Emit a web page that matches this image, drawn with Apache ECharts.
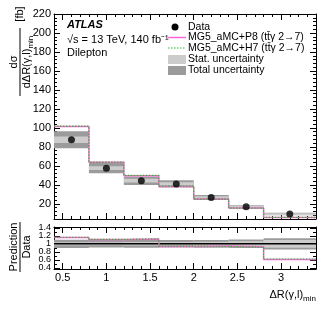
<!DOCTYPE html>
<html><head><meta charset="utf-8">
<script src="https://cdn.jsdelivr.net/npm/echarts@6/dist/echarts.min.js"></script>
<style>html,body{margin:0;padding:0;background:#fff}#c{width:332px;height:319px}</style>
</head><body><div id="c"></div>
<script>
// ---- data ----
const binEdges   = [0.4, 0.8, 1.2, 1.6, 2.0, 2.4, 2.8, 3.4];
const dataValues = [87.5, 57.6, 44.4, 41.0, 26.7, 16.8, 9.2];
const statUnc    = [3.3, 2.1, 2.0, 1.8, 1.4, 1.1, 0.9];
const totalUnc   = [9.0, 5.3, 4.5, 3.8, 2.6, 1.8, 1.3];
const predP8     = [101.5, 63.8, 49.7, 38.3, 25.2, 15.6, 5.6];
const predH7     = [101.8, 64.0, 49.9, 38.6, 25.0, 15.4, 5.7];
const xTickLabels = [0.5, 1, 1.5, 2, 2.5, 3];
const yMainTicks  = [20, 40, 60, 80, 100, 120, 140, 160, 180, 200, 220];
const yRatioTicks = [0.4, 0.6, 0.8, 1, 1.2, 1.4];

const FONT = '"Liberation Sans", Arial, Helvetica, sans-serif';
const MAGENTA = '#ff66dd', GREEN = '#22bb22', STAT = '#cccccc', TOTAL = '#9b9b9b';

function range(a, b, s){ const r=[]; for(let v=a; v<=b+1e-9; v+=s) r.push(Math.round(v*1000)/1000); return r; }
const xMinor = range(0.4, 3.4, 0.1);
const yMainMinor = range(8, 216, 4);
const yRatioMinor = range(0.4, 1.4, 0.1);

const nb = dataValues.length;
const centers = [], ratioP8 = [], ratioH7 = [];
for (let i=0;i<nb;i++){ centers.push((binEdges[i]+binEdges[i+1])/2); ratioP8.push(predP8[i]/dataValues[i]); ratioH7.push(predH7[i]/dataValues[i]); }
function stepPts(vals){ const p=[]; for(let i=0;i<vals.length;i++) p.push([binEdges[i], vals[i]]); p.push([binEdges[vals.length], vals[vals.length-1]]); return p; }
function bandData(center, err, rel){ const d=[]; for(let i=0;i<nb;i++){ const c=rel?1:center[i]; const e=rel?err[i]/center[i]:err[i]; d.push([binEdges[i], binEdges[i+1], c-e, c+e]); } return d; }
function bandRender(color){ return function(params, api){ const a=api.coord([api.value(0), api.value(3)]); const b=api.coord([api.value(1), api.value(2)]); return {type:'rect', shape:{x:a[0], y:a[1], width:b[0]-a[0], height:b[1]-a[1]}, style:{fill:color}}; }; }

const X = {min:0.4, max:3.4}, YM = {min:4, max:220}, YR = {min:0.37, max:1.42};
function ax(type, grid, pos, ext, ticks, len, line, labels, fs){
  return {type:'value', gridIndex:grid, position:pos, min:ext.min, max:ext.max,
    splitLine:{show:false},
    axisLine:{show:line, onZero:false, lineStyle:{color:'#000', width:1}},
    axisTick:{show:true, inside:true, length:len, customValues:ticks, lineStyle:{color:'#000', width:1}},
    axisLabel: labels ? {show:true, customValues:labels, fontSize:fs, color:'#000', fontFamily:FONT, margin:3, hideOverlap:false, showMinLabel:true, showMaxLabel:true} : {show:false}
  };
}
const xAxes = [
  ax('x',0,'bottom',X,xTickLabels,6,true,null),
  ax('x',0,'bottom',X,xMinor,3,false,null),
  ax('x',0,'top',X,xTickLabels,6,true,null),
  ax('x',0,'top',X,xMinor,3,false,null),
  ax('x',1,'bottom',X,xTickLabels,6,true,xTickLabels,11),
  ax('x',1,'bottom',X,xMinor,3,false,null),
  ax('x',1,'top',X,xTickLabels,6,true,null),
  ax('x',1,'top',X,xMinor,3,false,null)
];
const yAxes = [
  ax('y',0,'left',YM,yMainTicks,6,true,yMainTicks,11),
  ax('y',0,'left',YM,yMainMinor,3,false,null),
  ax('y',0,'right',YM,yMainTicks,6,true,null),
  ax('y',0,'right',YM,yMainMinor,3,false,null),
  ax('y',1,'left',YR,yRatioTicks,6,true,null),
  ax('y',1,'left',YR,yRatioMinor,3,false,null),
  ax('y',1,'right',YR,yRatioTicks,6,true,null),
  ax('y',1,'right',YR,yRatioMinor,3,false,null)
];

const series = [
  {type:'custom', xAxisIndex:0, yAxisIndex:0, renderItem:bandRender(TOTAL), data:bandData(dataValues,totalUnc,false), encode:{x:[0,1], y:[2,3]}, z:1},
  {type:'custom', xAxisIndex:0, yAxisIndex:0, renderItem:bandRender(STAT), data:bandData(dataValues,statUnc,false), encode:{x:[0,1], y:[2,3]}, z:2},
  {type:'line', xAxisIndex:0, yAxisIndex:0, step:'end', data:stepPts(predP8), symbol:'none', lineStyle:{color:MAGENTA, width:1.5}, z:3},
  {type:'line', xAxisIndex:0, yAxisIndex:0, step:'end', data:stepPts(predH7), symbol:'none', lineStyle:{color:GREEN, width:1.2, type:[1.5,1.5]}, z:4},
  {type:'scatter', xAxisIndex:0, yAxisIndex:0, data:centers.map((c,i)=>[c,dataValues[i]]), symbol:'circle', symbolSize:7, itemStyle:{color:'#000'}, z:5},
  {type:'custom', xAxisIndex:4, yAxisIndex:4, renderItem:bandRender(TOTAL), data:bandData(dataValues,totalUnc,true), encode:{x:[0,1], y:[2,3]}, z:1},
  {type:'custom', xAxisIndex:4, yAxisIndex:4, renderItem:bandRender(STAT), data:bandData(dataValues,statUnc,true), encode:{x:[0,1], y:[2,3]}, z:2},
  {type:'line', xAxisIndex:4, yAxisIndex:4, data:[[0.4,1],[3.4,1]], symbol:'none', lineStyle:{color:'#000', width:1.5}, z:3},
  {type:'line', xAxisIndex:4, yAxisIndex:4, step:'end', data:stepPts(ratioP8), symbol:'none', lineStyle:{color:MAGENTA, width:1.5}, z:4},
  {type:'line', xAxisIndex:4, yAxisIndex:4, step:'end', data:stepPts(ratioH7), symbol:'none', lineStyle:{color:GREEN, width:1.2, type:[1.5,1.5]}, z:5}
];

const chart = echarts.init(document.getElementById('c'));

const legendRows = [27, 37.5, 48, 59.5, 70.5];
const graphic = [
  {type:'text', left:67, top:19, style:{text:'ATLAS', font:'italic bold 11px '+FONT, fill:'#000'}},
  {type:'text', left:67, top:34, style:{text:'√s = 13 TeV, 140 fb⁻¹', font:'11px '+FONT, fill:'#000'}},
  {type:'text', left:67, top:47, style:{text:'Dilepton', font:'11px '+FONT, fill:'#000'}},
  {type:'circle', shape:{cx:175, cy:legendRows[0], r:3.5}, style:{fill:'#000'}},
  {type:'line', shape:{x1:168, y1:legendRows[1], x2:186, y2:legendRows[1]}, style:{stroke:MAGENTA, lineWidth:1.5}},
  {type:'line', shape:{x1:168, y1:legendRows[2], x2:186, y2:legendRows[2]}, style:{stroke:GREEN, lineWidth:1.2, lineDash:[1.5,1.5]}},
  {type:'rect', shape:{x:168, y:legendRows[3]-4.5, width:18, height:9}, style:{fill:STAT}},
  {type:'rect', shape:{x:168, y:legendRows[4]-4.5, width:18, height:9}, style:{fill:TOTAL}},
  {type:'text', x:188, y:legendRows[0], style:{text:'Data', font:'10.5px '+FONT, fill:'#000', verticalAlign:'middle'}},
  {type:'text', x:188, y:legendRows[1], style:{text:'MG5_aMC+P8 (tt̄γ 2→7)', font:'10.5px '+FONT, fill:'#000', verticalAlign:'middle'}},
  {type:'text', x:188, y:legendRows[2], style:{text:'MG5_aMC+H7 (tt̄γ 2→7)', font:'10.5px '+FONT, fill:'#000', verticalAlign:'middle'}},
  {type:'text', x:188, y:legendRows[3], style:{text:'Stat. uncertainty', font:'10.5px '+FONT, fill:'#000', verticalAlign:'middle'}},
  {type:'text', x:188, y:legendRows[4], style:{text:'Total uncertainty', font:'10.5px '+FONT, fill:'#000', verticalAlign:'middle'}},
  {type:'group', x:20, y:62, rotation:Math.PI/2, children:[
    {type:'text', x:0, y:-1, style:{text:'dσ', font:'11px '+FONT, fill:'#000', align:'center', verticalAlign:'bottom'}},
    {type:'line', shape:{x1:-34, y1:0, x2:34, y2:0}, style:{stroke:'#000', lineWidth:1}},
    {type:'text', x:0, y:1, style:{text:'{a|dΔR(γ,l)}{b|min}', align:'center', verticalAlign:'top', rich:{a:{font:'11px '+FONT, fill:'#000', verticalAlign:'top'}, b:{font:'8px '+FONT, fill:'#000', verticalAlign:'bottom', padding:[6,0,0,0]}}}},
    {type:'text', x:48, y:0, style:{text:'[fb]', font:'11px '+FONT, fill:'#000', align:'center', verticalAlign:'middle'}}
  ]},
  {type:'group', x:20, y:247, rotation:Math.PI/2, children:[
    {type:'text', x:0, y:-1, style:{text:'Prediction', font:'11px '+FONT, fill:'#000', align:'center', verticalAlign:'bottom'}},
    {type:'line', shape:{x1:-25, y1:0, x2:25, y2:0}, style:{stroke:'#000', lineWidth:1}},
    {type:'text', x:0, y:1, style:{text:'Data', font:'11px '+FONT, fill:'#000', align:'center', verticalAlign:'top'}}
  ]},
  {type:'text', x:316, y:295, style:{text:'{a|ΔR(γ,l)}{b|min}', align:'right', verticalAlign:'middle', rich:{a:{font:'11px '+FONT, fill:'#000'}, b:{font:'8px '+FONT, fill:'#000', padding:[8,0,0,0]}}}}
];

chart.setOption({
  animation:false,
  backgroundColor:'#fff',
  grid:[{left:54, right:16, top:14, height:205}, {left:54, right:16, top:227, height:42}],
  xAxis:xAxes, yAxis:yAxes, series:series, graphic:graphic
});

// ratio-panel tick labels placed through the ratio axis scale
const ratioLabels = yRatioTicks.map(v => {
  const p = chart.convertToPixel({xAxisIndex:4, yAxisIndex:4}, [0.4, v]);
  return {type:'text', x:51, y:p[1], style:{text:String(v), font:'9px '+FONT, fill:'#000', align:'right', verticalAlign:'middle'}};
});
chart.setOption({graphic: graphic.concat(ratioLabels)});
</script></body></html>
